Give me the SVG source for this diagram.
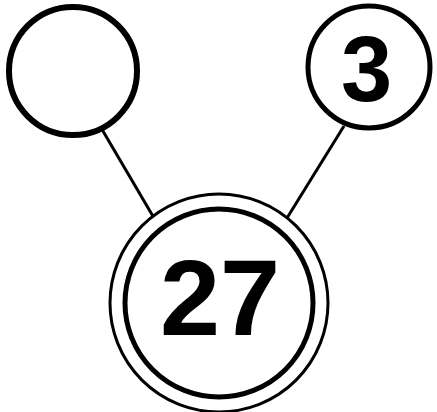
<svg xmlns="http://www.w3.org/2000/svg" width="437" height="412" viewBox="0 0 437 412">
<style>
.n{fill:#fff;stroke:#000}
.t{font-family:"Liberation Sans",Arial,sans-serif;font-weight:bold;text-anchor:middle;fill:#000}
.e{stroke:#000;stroke-width:3;fill:none}
</style>
<rect width="437" height="412" fill="#fff"/>
<g id="edges">
<line class="e" x1="100" y1="126" x2="154" y2="218"/>
<line class="e" x1="344" y1="126" x2="287" y2="218"/>
</g>
<g id="node-left">
<circle class="n" cx="73" cy="71" r="64" stroke-width="6"/>
</g>
<g id="node-3">
<circle class="n" cx="369" cy="67" r="61" stroke-width="5"/>
<text class="t" x="366.5" y="101" font-size="92">3</text>
</g>
<g id="node-27">
<circle class="n" cx="219" cy="303" r="109" stroke-width="3"/>
<circle class="n" cx="219" cy="303" r="94" stroke-width="5"/>
<text class="t" x="220" y="335" font-size="108">27</text>
</g>
</svg>
